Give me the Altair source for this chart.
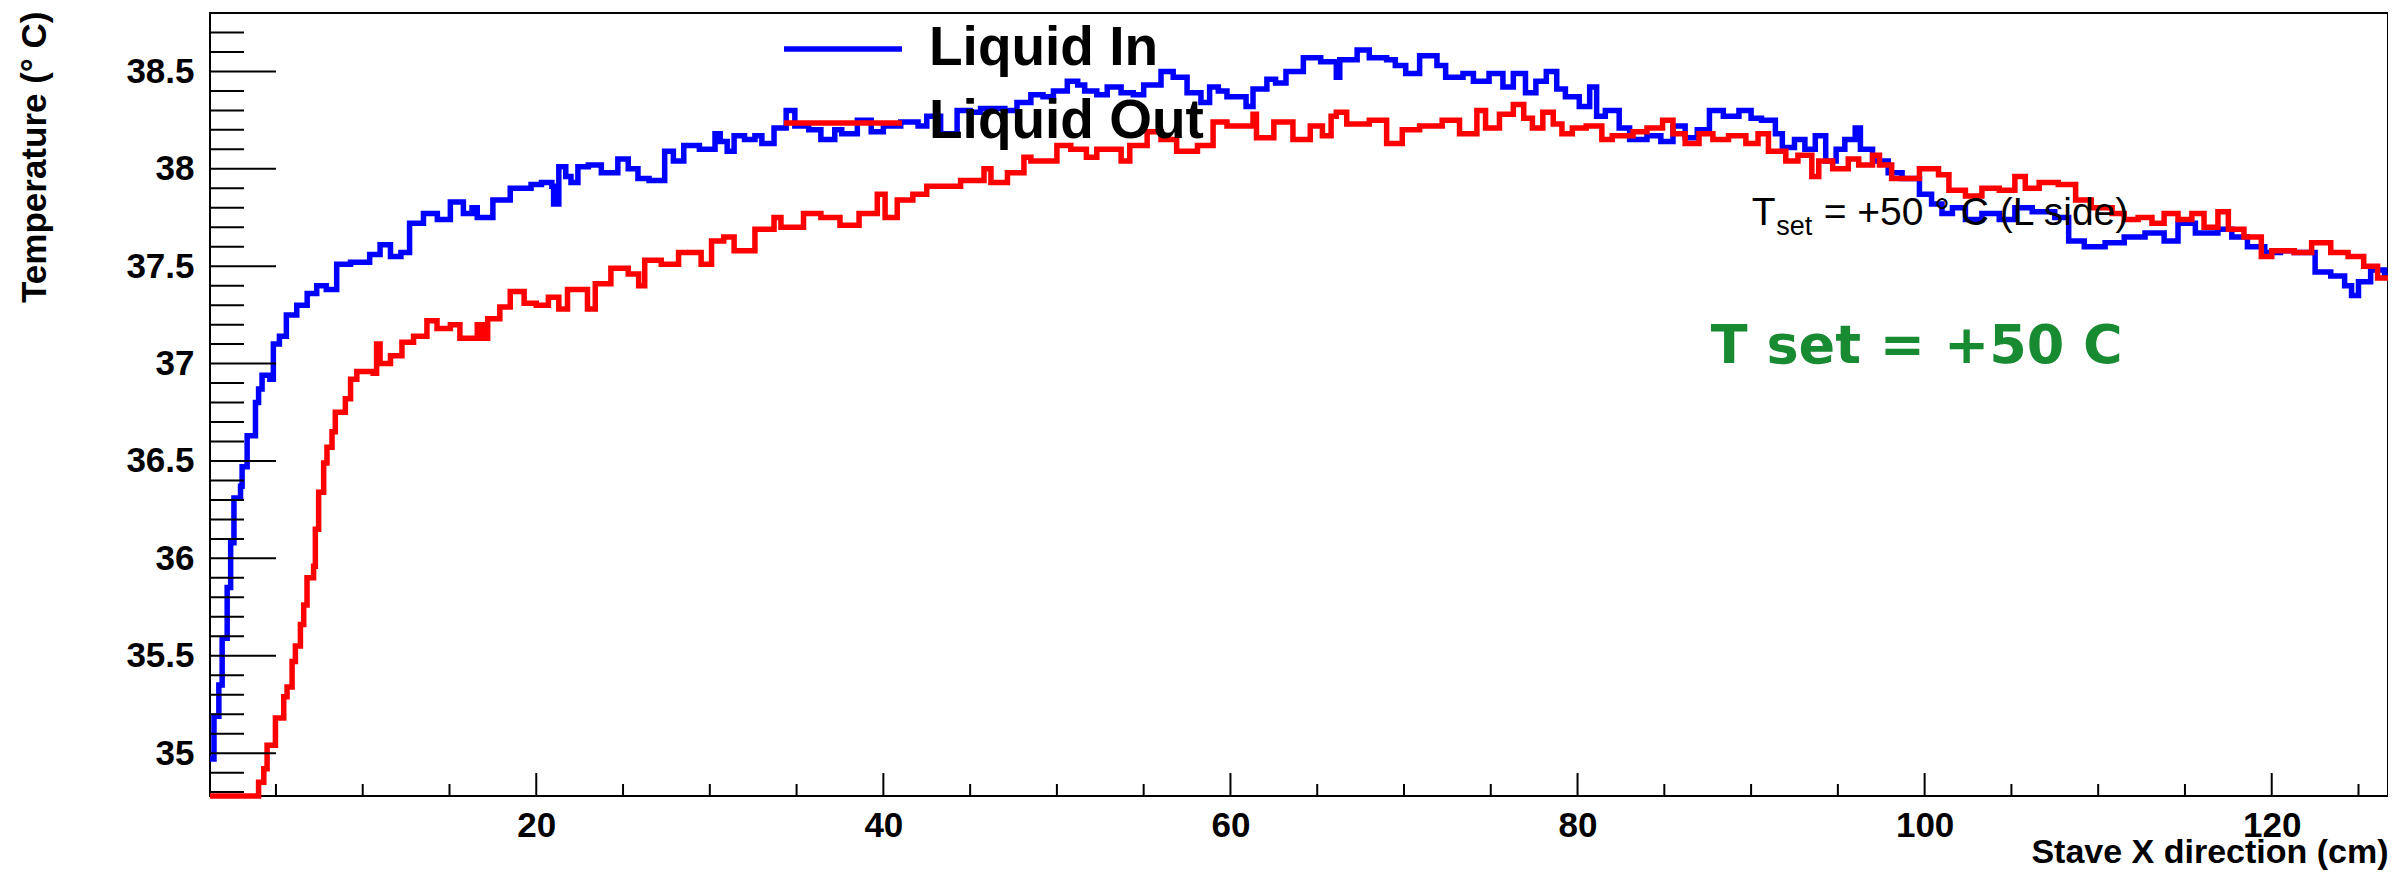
import altair as alt
import pandas as pd

# ---------------- data ----------------
blue_x = [1.2, 1.43, 1.71, 1.9, 2.19, 2.39, 2.58, 2.96, 3.05, 3.34,
          3.82, 4.0, 4.2, 4.65, 4.85, 5.2, 5.6, 6.2, 6.8, 7.35,
          7.9, 8.5, 9.3, 10.4, 11.0, 11.6, 12.2, 12.7, 13.5, 14.3,
          15.05, 15.8, 16.3, 16.6, 17.5, 18.5, 19.7,
          20.3, 20.9, 21.0, 21.3, 21.7, 22.0, 22.4, 23.0, 23.75, 24.7,
          25.3, 25.86, 26.5, 27.4, 27.9, 28.5, 29.4, 30.3, 30.6, 31.0,
          31.4, 32.0, 32.6, 33.0, 33.7, 34.4, 34.9, 35.7, 36.4, 37.2,
          37.6, 38.5, 39.3, 40.0, 41.0, 42.0, 42.5, 43.3, 44.25, 45.0, 45.6,
          46.0, 47.0, 47.7, 48.5, 49.2, 49.8, 50.6, 51.2, 51.6, 52.3,
          52.9, 53.7, 54.4, 55.0, 56.0, 56.7, 57.5, 58.3, 58.8, 59.3,
          59.8, 60.9, 61.3, 62.1, 62.6, 63.2, 64.2, 65.2, 66.1, 66.3,
          67.3, 68.0, 69.0, 69.5, 70.1, 70.9, 71.9, 72.4,
          72.8, 73.4, 74.0, 74.9, 75.7, 76.3, 77.0, 77.6, 78.2, 78.8,
          79.3, 80.1, 80.7, 81.1, 81.6, 82.4, 83.0, 84.0, 84.8, 85.5,
          86.2, 86.9, 87.6, 88.4, 89.3, 90.0, 90.6, 91.4, 91.8, 92.5,
          93.1, 93.7, 94.3, 94.9, 95.4, 96.0, 96.3, 97.0, 97.9, 98.7,
          99.7, 100.4, 101.0, 101.6, 102.35, 103.3, 104.3, 105.2, 106.2, 107.5,
          108.3, 109.2, 110.4, 111.5, 112.7, 113.8, 114.6, 115.6, 116.9, 117.7,
          118.6, 119.6, 120.5, 121.3, 122.5, 123.4, 124.2, 124.6, 125.0, 125.7,
          126.5, 126.7]
blue_t = [34.97, 35.19, 35.35, 35.59, 35.85, 36.08, 36.31, 36.37, 36.47, 36.63,
          36.80, 36.87, 36.94, 36.92, 37.10, 37.14, 37.25, 37.30, 37.36, 37.40,
          37.38, 37.51, 37.52, 37.56, 37.61, 37.55, 37.57, 37.72, 37.77, 37.74,
          37.83, 37.77, 37.80, 37.75, 37.84, 37.90, 37.92,
          37.93, 37.91, 37.82, 38.01, 37.96, 37.93, 38.01, 38.02, 37.98, 38.05,
          38.00, 37.95, 37.94, 38.09, 38.04, 38.12, 38.10, 38.18, 38.14, 38.09,
          38.17, 38.15, 38.17, 38.13, 38.21, 38.30, 38.22, 38.20, 38.15, 38.20,
          38.18, 38.25, 38.19, 38.22, 38.24, 38.22, 38.27, 38.18, 38.30, 38.29, 38.31,
          38.31, 38.30, 38.34, 38.38, 38.37, 38.40, 38.45, 38.43, 38.40, 38.38,
          38.42, 38.39, 38.38, 38.43, 38.50, 38.47, 38.39, 38.34, 38.42, 38.40,
          38.37, 38.32, 38.41, 38.46, 38.44, 38.50, 38.57, 38.55, 38.47, 38.56,
          38.61, 38.57, 38.56, 38.53, 38.49, 38.58, 38.53, 38.47,
          38.47, 38.49, 38.45, 38.49, 38.42, 38.49, 38.39, 38.45, 38.50, 38.41,
          38.37, 38.32, 38.42, 38.27, 38.30, 38.21, 38.15, 38.17, 38.14, 38.22,
          38.16, 38.20, 38.30, 38.27, 38.30, 38.26, 38.25, 38.18, 38.11, 38.15,
          38.10, 38.17, 38.04, 38.10, 38.15, 38.21, 38.10, 38.04, 37.98, 37.95,
          37.87, 37.82, 37.77, 37.80, 37.74, 37.77, 37.74, 37.80, 37.78, 37.75,
          37.63, 37.60, 37.62, 37.65, 37.67, 37.63, 37.72, 37.67, 37.69, 37.65,
          37.60, 37.57, 37.58, 37.57, 37.47, 37.45, 37.40, 37.35, 37.42, 37.48,
          37.45, 37.45]

red_x = [1.2, 4.0, 4.3, 4.49, 4.97, 5.45, 5.64, 5.93, 6.12, 6.41,
         6.6, 6.79, 7.17, 7.27, 7.46, 7.75, 7.94, 8.23, 8.42, 9.0,
         9.3, 9.66, 10.6, 10.8, 11.0, 11.6, 12.26, 12.93, 13.7, 14.28,
         15.05, 15.6, 16.6, 16.9, 17.2, 17.9, 18.5, 19.3,
         20.0, 20.7, 21.3, 21.8, 22.95, 23.4, 24.3, 25.3, 25.9, 26.25,
         27.2, 28.2, 29.5, 30.1, 30.8, 31.4, 32.6, 33.7, 34.1, 35.4,
         36.4, 37.5, 38.6, 39.65, 40.1, 40.8, 41.7, 42.5, 44.45, 45.8, 46.2,
         47.15, 48.1, 48.5, 50.0, 50.8, 51.7, 52.3, 53.7, 54.2, 55.2,
         56.0, 56.9, 58.1, 59.0, 59.8, 61.3, 61.5, 62.5, 63.6, 64.6,
         65.3, 65.8, 66.1, 66.7, 68.0, 69.0, 69.9, 70.9, 72.2,
         73.2, 74.2, 74.7, 75.5, 76.3, 76.9, 77.4, 78.0, 78.6, 79.1,
         79.7, 80.5, 81.4, 82.0, 83.2, 84.0, 84.9, 85.5, 86.2, 87.0,
         87.8, 88.7, 89.7, 90.4, 91.0, 92.0, 92.7, 93.5, 93.9, 94.7,
         95.6, 96.2, 97.0, 97.4, 98.1,
         99.7, 100.8, 101.4, 102.35, 103.3, 104.3, 105.2, 105.8, 106.6, 107.7,
         108.7, 109.6, 110.8, 111.5, 112.3, 113.1, 113.8, 114.6, 115.4, 116.1,
         116.9, 117.5, 118.4, 119.4, 120.0, 121.3, 122.3, 123.4, 124.4, 125.3,
         126.1, 126.7]
red_t = [34.78, 34.85, 34.92, 35.04, 35.18, 35.29, 35.34, 35.47, 35.55, 35.66,
         35.76, 35.90, 35.96, 36.15, 36.34, 36.49, 36.57, 36.65, 36.75, 36.82,
         36.92, 36.96, 36.95, 37.10, 37.00, 37.04, 37.11, 37.14, 37.22, 37.18,
         37.20, 37.13, 37.20, 37.13, 37.23, 37.29, 37.37, 37.31,
         37.30, 37.34, 37.28, 37.38, 37.28, 37.41, 37.49, 37.46, 37.40, 37.53,
         37.51, 37.57, 37.51, 37.63, 37.65, 37.58, 37.69, 37.75, 37.70, 37.77,
         37.75, 37.71, 37.77, 37.87, 37.75, 37.84, 37.87, 37.91, 37.94, 38.00, 37.93,
         37.98, 38.06, 38.04, 38.12, 38.10, 38.06, 38.10, 38.04, 38.12, 38.19,
         38.15, 38.09, 38.12, 38.24, 38.22, 38.28, 38.16, 38.24, 38.15, 38.22,
         38.17, 38.27, 38.29, 38.23, 38.25, 38.13, 38.20, 38.22, 38.25,
         38.18, 38.30, 38.21, 38.28, 38.33, 38.26, 38.21, 38.29, 38.23, 38.18,
         38.21, 38.22, 38.15, 38.17, 38.19, 38.21, 38.25, 38.18, 38.13, 38.18,
         38.15, 38.17, 38.13, 38.18, 38.09, 38.04, 38.07, 37.96, 38.04, 38.00,
         38.05, 38.02, 38.07, 38.02, 37.95,
         38.00, 37.97, 37.89, 37.86, 37.90, 37.89, 37.96, 37.90, 37.93, 37.92,
         37.84, 37.80, 37.77, 37.74, 37.75, 37.72, 37.77, 37.74, 37.77, 37.70,
         37.78, 37.69, 37.65, 37.55, 37.58, 37.57, 37.62, 37.57, 37.55, 37.50,
         37.44, 37.44]

series_names = ["Liquid In", "Liquid Out"]
series_colors = ["#0000ff", "#ff0000"]

x_major = [20, 40, 60, 80, 100, 120]
x_minor = [5, 10, 15, 25, 30, 35, 45, 50, 55, 65, 70, 75, 85, 90, 95, 105, 110, 115, 125]
y_major = [35.0, 35.5, 36.0, 36.5, 37.0, 37.5, 38.0, 38.5]
y_minor = [34.8, 34.9, 35.1, 35.2, 35.3, 35.4, 35.6, 35.7, 35.8, 35.9,
           36.1, 36.2, 36.3, 36.4, 36.6, 36.7, 36.8, 36.9, 37.1, 37.2,
           37.3, 37.4, 37.6, 37.7, 37.8, 37.9, 38.1, 38.2, 38.3, 38.4,
           38.6, 38.7]

X_DOMAIN = [1.2, 126.7]
Y_DOMAIN = [34.78, 38.80]

# annotations (data coordinates)
tset_T = {"x": [90.04], "T": [37.71]}
tset_sub = {"x": [91.45], "T": [37.66]}
tset_rest = {"x": [94.18], "T": [37.71]}
green_pos = {"x": [87.68], "T": [37.005]}

# ---------------- chart ----------------
W, H = 2178, 783
FONT = "Liberation Sans"

df = pd.concat([
    pd.DataFrame({"x": blue_x, "T": blue_t, "series": series_names[0]}),
    pd.DataFrame({"x": red_x, "T": red_t, "series": series_names[1]}),
], ignore_index=True)

xs = alt.Scale(domain=X_DOMAIN, nice=False, zero=False)
ys = alt.Scale(domain=Y_DOMAIN, nice=False, zero=False)

x_axis = alt.Axis(values=x_major, format="d", ticks=False, domain=False, grid=False,
                  labelFont=FONT, labelFontWeight="bold", labelFontSize=35, labelColor="black",
                  labelPadding=12, labelOverlap=False, labelFlush=False,
                  title="Stave X direction (cm)", titleFont=FONT, titleFontWeight="bold",
                  titleFontSize=34, titleColor="black", titleAlign="right",
                  titleBaseline="alphabetic", titleX=W, titleY=66)
y_axis = alt.Axis(values=y_major, format="~g", ticks=False, domain=False, grid=False,
                  labelFont=FONT, labelFontWeight="bold", labelFontSize=35, labelColor="black",
                  labelPadding=16, labelOverlap=False, labelFlush=False,
                  title="Temperature (° C)", titleFont=FONT, titleFontWeight="bold",
                  titleFontSize=35, titleColor="black", titleAngle=270, titleAlign="right",
                  titleBaseline="alphabetic", titleX=-165, titleY=-2)

X_ENC = dict(scale=xs, axis=x_axis)
Y_ENC = dict(scale=ys, axis=y_axis)

lines = alt.Chart(df).mark_line(interpolate="step-after", strokeWidth=5.5).encode(
    x=alt.X("x:Q", **X_ENC),
    y=alt.Y("T:Q", **Y_ENC),
    color=alt.Color("series:N", scale=alt.Scale(domain=series_names, range=series_colors), legend=None),
)

def yticks(vals, length):
    return alt.Chart(pd.DataFrame({"T": vals})).mark_rule(color="black", strokeWidth=2).encode(
        y=alt.Y("T:Q", **Y_ENC), x=alt.value(0), x2=alt.value(length))

def xticks(vals, length):
    return alt.Chart(pd.DataFrame({"x": vals})).mark_rule(color="black", strokeWidth=2).encode(
        x=alt.X("x:Q", **X_ENC), y=alt.value(H), y2=alt.value(H - length))

one = pd.DataFrame({"k": [0]})

leg_in_line = alt.Chart(one).mark_rule(color=series_colors[0], strokeWidth=5.5).encode(
    x=alt.value(574), x2=alt.value(692), y=alt.value(36))
leg_out_line = alt.Chart(one).mark_rule(color=series_colors[1], strokeWidth=5.5).encode(
    x=alt.value(574), x2=alt.value(692), y=alt.value(110))
leg_in_text = alt.Chart(one).mark_text(text=series_names[0], font=FONT, fontWeight="bold", fontSize=55,
                                       align="left", baseline="alphabetic", color="black").encode(
    x=alt.value(719), y=alt.value(52))
leg_out_text = alt.Chart(one).mark_text(text=series_names[1], font=FONT, fontWeight="bold", fontSize=55,
                                        align="left", baseline="alphabetic", color="black").encode(
    x=alt.value(719), y=alt.value(125))

def note(pos, text, size, color="black", font=FONT, weight="normal"):
    return alt.Chart(pd.DataFrame(pos)).mark_text(text=text, font=font, fontSize=size, fontWeight=weight,
                                                  align="left", baseline="alphabetic", color=color).encode(
        x=alt.X("x:Q", **X_ENC), y=alt.Y("T:Q", **Y_ENC))

chart = alt.layer(
    lines,
    yticks(y_major, 66), yticks(y_minor, 34), xticks(x_major, 23), xticks(x_minor, 12),
    leg_in_line, leg_out_line,
    note(tset_T, "T", 39), note(tset_sub, "set", 27), note(tset_rest, "= +50 ° C (L side)", 39),
    note(green_pos, "T set = +50 C", 54, color="#178a32", font="DejaVu Sans", weight="bold"),
    leg_in_text, leg_out_text,
).properties(
    width=W, height=H,
    padding={"left": 202, "top": 5, "right": 0, "bottom": 74},
    autosize=alt.AutoSizeParams(type="none"),
    background="white",
).configure_view(stroke="black", strokeWidth=2)

chart.save("out.html", embed_options={"renderer": "svg", "actions": False})
